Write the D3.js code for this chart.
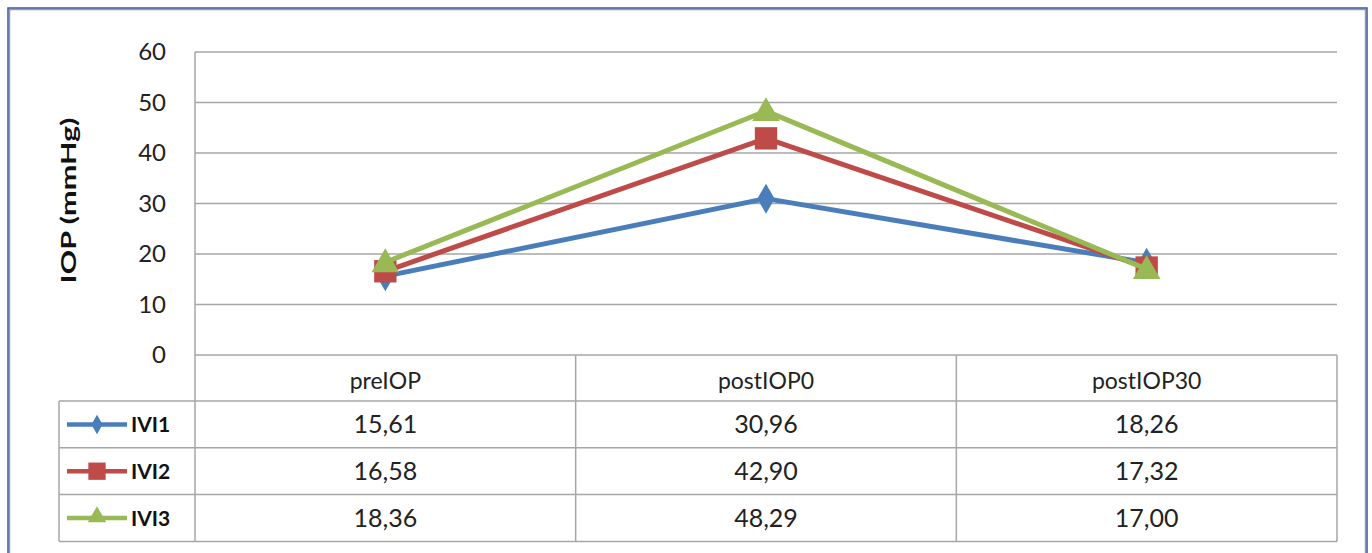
<!DOCTYPE html>
<html>
<head>
<meta charset="utf-8">
<script src="https://cdn.jsdelivr.net/npm/d3@7/dist/d3.min.js"></script>
<style>
  html, body { margin: 0; padding: 0; background: #fff; }
  svg { display: block; font-family: Lato, "Open Sans", sans-serif; }
</style>
</head>
<body>
<svg id="chart" width="1372" height="553"></svg>
<script>
// Timepoints and mean IOP per injection group
const categories = ["preIOP", "postIOP0", "postIOP30"];
const seriesNames = ["IVI1", "IVI2", "IVI3"];
const ivi1 = [15.61, 30.96, 18.26];
const ivi2 = [16.58, 42.90, 17.32];
const ivi3 = [18.36, 48.29, 17.00];
const yTicks = [0, 10, 20, 30, 40, 50, 60];

const seriesValues = [ivi1, ivi2, ivi3];
const colors = ["#4a7ebb", "#be4b48", "#98b954"];
const symbols = [d3.symbolDiamond, d3.symbolSquare, d3.symbolTriangle];
const symbolSizes = [260, 500, 330];
const keySizes = [110, 300, 150];

const svg = d3.select("#chart");

// Layout
const plot = { left: 195, right: 1337, top: 52, bottom: 355 };
const tableLeft = 59;
const rowH = 46.8;
const headerBottom = 401;

const x = d3.scaleBand().domain(categories).range([plot.left, plot.right]);
const y = d3.scaleLinear().domain([0, 60]).range([plot.bottom, plot.top]);
const fmt = v => v.toFixed(2).replace(".", ",");
const cx = c => x(c) + x.bandwidth() / 2;

// Outer frame
svg.append("rect")
  .attr("x", 9.5).attr("y", 9.5).attr("width", 1356).attr("height", 560)
  .attr("fill", "none").attr("stroke", "#9a9a9a").attr("stroke-width", 1.5);
svg.append("rect")
  .attr("x", 8).attr("y", 8).attr("width", 1359).attr("height", 562)
  .attr("fill", "none").attr("stroke", "#3b55a3").attr("stroke-width", 1.5);

// Gridlines
svg.append("g").selectAll("line").data(yTicks.filter(t => t > 0)).join("line")
  .attr("x1", plot.left).attr("x2", plot.right)
  .attr("y1", d => y(d)).attr("y2", d => y(d))
  .attr("stroke", "#a6a6a6").attr("stroke-width", 1.5);

// Y axis
const yAxis = svg.append("g")
  .attr("transform", `translate(${plot.left},0)`)
  .call(d3.axisLeft(y).tickValues(yTicks).tickSize(0).tickPadding(29));
yAxis.select(".domain").remove();
yAxis.selectAll("text")
  .attr("font-family", "Lato, 'Open Sans', sans-serif")
  .attr("font-size", 24).attr("fill", "#222");

// Y axis title
svg.append("text")
  .attr("transform", `translate(76,${(plot.top + plot.bottom) / 2 - 3}) rotate(-90)`)
  .attr("text-anchor", "middle")
  .attr("font-size", 20).attr("font-weight", "bold").attr("fill", "#111")
  .attr("textLength", 166).attr("lengthAdjust", "spacingAndGlyphs")
  .text("IOP  (mmHg)");

// Data table grid
const tableBottom = headerBottom + rowH * 3;
const grid = svg.append("g").attr("stroke", "#a6a6a6").attr("stroke-width", 1.5);
const colEdges = [plot.left, ...categories.map(c => x(c) + x.bandwidth())];
colEdges.forEach(ex => {
  grid.append("line").attr("x1", ex).attr("x2", ex)
    .attr("y1", ex === plot.left ? plot.top : plot.bottom).attr("y2", tableBottom);
});
grid.append("line").attr("x1", plot.left).attr("x2", plot.right)
  .attr("y1", plot.bottom).attr("y2", plot.bottom);
d3.range(4).forEach(i => {
  const ry = headerBottom + rowH * i;
  grid.append("line").attr("x1", tableLeft).attr("x2", plot.right)
    .attr("y1", ry).attr("y2", ry);
});
grid.append("line").attr("x1", tableLeft).attr("x2", tableLeft)
  .attr("y1", headerBottom).attr("y2", tableBottom);

// Category header labels
svg.append("g").selectAll("text").data(categories).join("text")
  .attr("x", d => cx(d))
  .attr("y", 389)
  .attr("text-anchor", "middle")
  .attr("font-size", 23).attr("fill", "#222")
  .text(d => d);

// Table rows: legend key + values
seriesNames.forEach((name, i) => {
  const ry = headerBottom + rowH * i + rowH / 2;
  const row = svg.append("g");
  row.append("line").attr("x1", 67).attr("x2", 127)
    .attr("y1", ry).attr("y2", ry)
    .attr("stroke", colors[i]).attr("stroke-width", 4.5);
  row.append("path")
    .attr("d", d3.symbol(symbols[i], keySizes[i])())
    .attr("transform", `translate(97,${ry + (i === 2 ? -1 : 0)})`)
    .attr("fill", colors[i]);
  row.append("text").attr("x", 131).attr("y", ry + 8)
    .attr("font-size", 21).attr("font-weight", "bold").attr("fill", "#111")
    .text(name);
  row.selectAll("text.val").data(seriesValues[i]).join("text")
    .attr("class", "val")
    .attr("x", (d, j) => cx(categories[j]))
    .attr("y", ry + 9)
    .attr("text-anchor", "middle")
    .attr("font-size", 25).attr("fill", "#222")
    .text(d => fmt(d));
});

// Series lines and markers
const line = d3.line()
  .x((d, j) => cx(categories[j]))
  .y(d => y(d));

seriesValues.forEach((vals, i) => {
  const g = svg.append("g");
  g.append("path").datum(vals)
    .attr("d", line)
    .attr("fill", "none").attr("stroke", colors[i])
    .attr("stroke-width", 5).attr("stroke-linejoin", "round");
  g.selectAll("path.mark").data(vals).join("path")
    .attr("class", "mark")
    .attr("d", d3.symbol(symbols[i], symbolSizes[i])())
    .attr("transform", (d, j) =>
      `translate(${cx(categories[j])},${y(d) + (i === 2 ? 2 : 0)})`)
    .attr("fill", colors[i]);
});
</script>
</body>
</html>
